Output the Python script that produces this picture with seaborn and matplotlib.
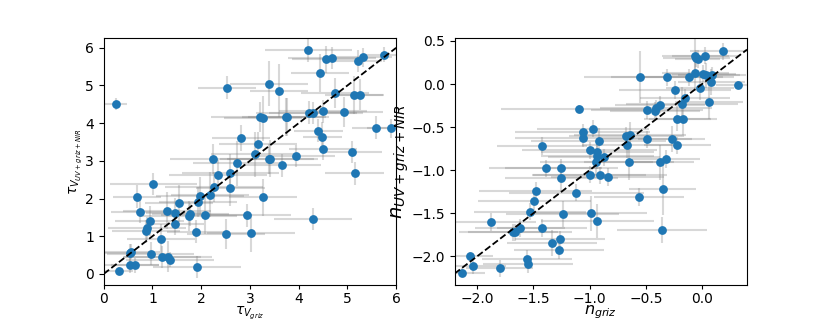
import numpy as np
import pandas as pd
import matplotlib
matplotlib.use("Agg")
import matplotlib.pyplot as plt
import seaborn as sns

# ---------------- data: tau_V ----------------
tau_griz = [4.20, 4.56, 4.68, 5.22, 5.32, 5.76, 4.44, 3.40, 2.53, 3.60,
            4.74, 5.13, 5.26, 4.94, 4.22, 4.29, 4.50, 0.25, 3.21, 3.26,
            3.73, 3.77, 5.59, 5.90, 4.40, 4.48, 2.82, 3.16, 4.50, 5.10,
            5.15, 3.10, 3.94, 2.25, 3.39, 3.42, 2.73, 3.65, 2.34, 2.60,
            2.60, 2.26, 1.02, 0.68, 1.98, 2.19, 3.27, 1.93, 1.55, 0.75,
            1.30, 1.46, 1.74, 1.78, 2.08, 2.94, 1.46, 0.94, 0.88, 0.87,
            1.89, 2.51, 3.02, 4.29, 1.18, 0.53, 0.55, 0.96, 1.19, 1.32,
            1.36, 0.53, 0.64, 0.31, 1.91]
tau_all = [5.93, 5.69, 5.73, 5.65, 5.75, 5.82, 5.33, 5.05, 4.94, 4.86,
           4.81, 4.75, 4.76, 4.29, 4.28, 4.27, 4.31, 4.51, 4.17, 4.13,
           4.17, 4.17, 3.88, 3.86, 3.80, 3.62, 3.60, 3.46, 3.31, 3.23,
           2.67, 3.17, 3.13, 3.04, 3.04, 3.06, 2.94, 2.88, 2.63, 2.68,
           2.29, 2.31, 2.39, 2.05, 2.07, 2.10, 2.03, 1.91, 1.87, 1.65,
           1.68, 1.62, 1.54, 1.58, 1.55, 1.55, 1.32, 1.41, 1.21, 1.13,
           1.12, 1.06, 1.09, 1.46, 0.93, 0.55, 0.59, 0.54, 0.45, 0.46,
           0.37, 0.23, 0.23, 0.07, 0.18]
tau_griz_err = [0.9, 0.7, 0.9, 0.5, 0.6, 0.4, 0.6, 0.8, 0.6, 0.6,
                0.7, 0.6, 0.5, 0.8, 1.1, 0.9, 0.9, 0.22, 1.0, 0.8,
                0.9, 0.8, 0.5, 0.5, 0.5, 0.4, 0.6, 0.8, 0.7, 0.6,
                0.6, 0.9, 0.8, 0.9, 1.0, 0.9, 0.9, 0.8, 1.0, 1.0,
                0.7, 1.0, 0.9, 0.5, 0.9, 0.8, 0.7, 0.8, 0.7, 0.6,
                0.9, 0.6, 1.0, 0.8, 0.9, 0.9, 0.6, 0.7, 0.8, 0.7,
                0.6, 0.8, 0.9, 0.8, 0.7, 0.5, 0.6, 0.9, 0.8, 0.9,
                0.9, 0.6, 0.5, 0.3, 0.9]
tau_all_err = [0.3, 0.35, 0.3, 0.3, 0.25, 0.2, 0.5, 0.6, 0.3, 0.7,
               0.4, 0.5, 0.4, 0.4, 0.3, 0.3, 0.3, 0.17, 0.4, 0.6,
               0.5, 0.5, 0.3, 0.25, 0.3, 0.4, 0.35, 0.3, 0.3, 0.3,
               0.3, 0.6, 0.3, 0.4, 0.4, 0.5, 0.6, 0.3, 0.4, 0.5,
               0.5, 0.4, 0.3, 0.3, 0.5, 0.6, 0.5, 0.4, 0.5, 0.3,
               0.5, 0.4, 0.4, 0.3, 0.5, 0.3, 0.3, 0.4, 0.3, 0.3,
               0.3, 0.4, 0.5, 0.3, 0.4, 0.25, 0.2, 0.3, 0.3, 0.4,
               0.2, 0.2, 0.2, 0.1, 0.3]

# ---------------- data: n ----------------
n_griz = [0.19, -0.06, 0.03, -0.05, -0.04, -0.55, -0.31, -0.115, -0.06, 0.006,
          0.035, 0.09, 0.083, 0.32, -0.02, -0.24, -0.15, -0.18, 0.06, -0.375,
          -0.42, -0.41, -0.49, -1.09, -0.22, -0.17, -1.06, -0.97, -1.06, -0.64,
          -0.68, -0.49, -0.27, -0.67, -0.22, -0.92, -1.42, -1.00, -0.93, -0.93,
          -0.87, -0.94, -0.65, -0.37, -0.32, -1.39, -1.25, -1.00, -0.91, -0.84,
          -1.25, -1.48, -1.12, -0.35, -0.56, -1.49, -1.53, -1.24, -0.99, -0.93,
          -1.88, -1.42, -1.62, -1.66, -1.68, -0.36, -1.26, -1.33, -1.27, -1.56,
          -1.55, -2.06, -2.04, -1.80, -2.13]
n_all = [0.38, 0.33, 0.33, 0.30, 0.29, 0.085, 0.08, 0.08, 0.13, 0.12,
         0.10, 0.10, 0.02, -0.01, -0.04, -0.07, -0.16, -0.23, -0.21, -0.24,
         -0.31, -0.28, -0.30, -0.29, -0.40, -0.41, -0.56, -0.52, -0.63, -0.59,
         -0.60, -0.64, -0.64, -0.71, -0.71, -0.66, -0.72, -0.77, -0.79, -0.84,
         -0.85, -0.91, -0.91, -0.91, -0.87, -0.98, -0.97, -1.05, -1.06, -1.08,
         -1.09, -1.24, -1.26, -1.22, -1.31, -1.36, -1.48, -1.51, -1.50, -1.59,
         -1.60, -1.67, -1.67, -1.72, -1.72, -1.69, -1.80, -1.84, -1.93, -2.03,
         -2.09, -2.00, -2.11, -2.14, -2.19]
n_griz_err = [0.3, 0.3, 0.3, 0.3, 0.2, 0.5, 0.5, 0.4, 0.3, 0.3,
              0.3, 0.3, 0.3, 0.2, 0.3, 0.5, 0.4, 0.5, 0.3, 0.4,
              0.4, 0.5, 0.5, 0.7, 0.3, 0.3, 0.6, 0.5, 0.6, 0.5,
              0.5, 0.4, 0.3, 0.4, 0.3, 0.6, 0.4, 0.6, 0.5, 0.5,
              0.5, 0.5, 0.4, 0.3, 0.3, 0.5, 0.5, 0.5, 0.6, 0.5,
              0.5, 0.5, 0.6, 0.3, 0.4, 0.5, 0.5, 0.5, 0.5, 0.5,
              0.4, 0.4, 0.4, 0.5, 0.4, 0.4, 0.4, 0.4, 0.4, 0.4,
              0.4, 0.2, 0.3, 0.3, 0.2]
n_all_err = [0.1, 0.2, 0.1, 0.1, 0.1, 0.3, 0.1, 0.1, 0.2, 0.1,
             0.15, 0.1, 0.15, 0.05, 0.15, 0.1, 0.1, 0.2, 0.2, 0.1,
             0.1, 0.1, 0.1, 0.05, 0.15, 0.2, 0.1, 0.1, 0.1, 0.15,
             0.1, 0.1, 0.15, 0.15, 0.1, 0.15, 0.1, 0.1, 0.15, 0.15,
             0.1, 0.15, 0.2, 0.2, 0.1, 0.1, 0.1, 0.1, 0.1, 0.1,
             0.15, 0.1, 0.1, 0.3, 0.1, 0.1, 0.1, 0.15, 0.2, 0.2,
             0.1, 0.1, 0.1, 0.1, 0.1, 0.15, 0.1, 0.15, 0.1, 0.1,
             0.1, 0.05, 0.1, 0.1, 0.05]

tau = pd.DataFrame({"x": tau_griz, "y": tau_all, "xerr": tau_griz_err, "yerr": tau_all_err})
nn = pd.DataFrame({"x": n_griz, "y": n_all, "xerr": n_griz_err, "yerr": n_all_err})

plt.rcParams["xtick.major.pad"] = 2
plt.rcParams["xtick.major.size"] = 3

fig, axes = plt.subplots(1, 2, figsize=(8.3, 3.2), dpi=100)

# ---------------- left panel ----------------
ax = axes[0]
ax.errorbar(tau["x"], tau["y"], xerr=tau["xerr"], yerr=tau["yerr"], fmt="none",
            ecolor="gray", alpha=0.3, elinewidth=1.5, zorder=1)
sns.scatterplot(data=tau, x="x", y="y", ax=ax, color="#1f77b4", s=40,
                linewidth=0, zorder=2)
ax.plot([0, 6], [0, 6], "k--", lw=1.3, zorder=3)
ax.set_xlim(0, 6)
ax.set_ylim(-0.29, 6.25)
ax.set_xlabel(r"$\tau_{V_{griz}}$")
ax.set_ylabel(r"$\tau_{V_{UV+griz+NIR}}$")
ax.xaxis.set_label_coords(0.5, -0.08)
ax.yaxis.set_label_coords(-0.068, 0.5)

# ---------------- right panel ----------------
ax = axes[1]
ax.errorbar(nn["x"], nn["y"], xerr=nn["xerr"], yerr=nn["yerr"], fmt="none",
            ecolor="gray", alpha=0.3, elinewidth=1.5, zorder=1)
sns.scatterplot(data=nn, x="x", y="y", ax=ax, color="#1f77b4", s=40,
                linewidth=0, zorder=2)
ax.plot([-2.2, 0.4], [-2.2, 0.4], "k--", lw=1.3, zorder=3)
ax.set_xlim(-2.2, 0.4)
ax.set_ylim(-2.33, 0.53)
ax.set_xlabel(r"$n_{griz}$", fontsize=11.5)
ax.set_ylabel(r"$n_{UV+griz+NIR}$", fontsize=14)
ax.xaxis.set_label_coords(0.5, -0.077)
ax.yaxis.set_label_coords(-0.15, 0.5)

plt.savefig("out.png", dpi=100)
